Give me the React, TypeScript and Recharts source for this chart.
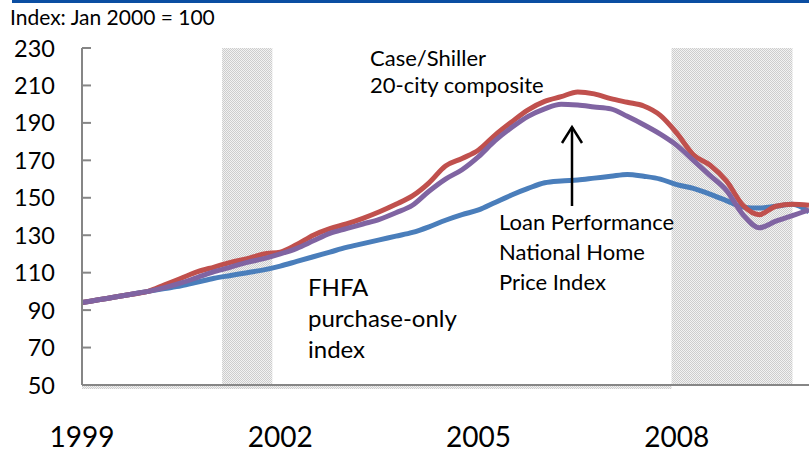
import React from "react";
import { LineChart, Line, XAxis, YAxis, ReferenceArea } from "recharts";

const years = [
  1999, 1999.25, 1999.5, 1999.75, 2000, 2000.25, 2000.5, 2000.75,
  2001, 2001.25, 2001.5, 2001.75, 2002, 2002.25, 2002.5, 2002.75,
  2003, 2003.25, 2003.5, 2003.75, 2004, 2004.25, 2004.5, 2004.75,
  2005, 2005.25, 2005.5, 2005.75, 2006, 2006.25, 2006.5, 2006.75,
  2007, 2007.25, 2007.5, 2007.75, 2008, 2008.25, 2008.5, 2008.75,
  2009, 2009.25, 2009.5, 2009.75, 2010,
];

const fhfa = [
  94, 95.5, 97, 98.5, 100, 101.5, 103, 105,
  107, 108.5, 110, 111.5, 113.5, 116, 118.5, 121,
  123.5, 125.5, 127.5, 129.5, 131.5, 134.5, 138, 141,
  143.5, 147.5, 151.5, 155, 158, 159, 159.5, 160.5,
  161.5, 162.5, 161.5, 160, 157, 155, 152, 148.5,
  145, 144.5, 145.5, 146.5, 142.5,
];

const caseShiller = [
  94, 95.5, 97, 98.5, 100, 103.5, 107, 110.5,
  113, 115.5, 117.5, 120, 121, 125, 130, 133.5,
  136, 139, 142.5, 146.5, 151, 158, 167, 171,
  175.5, 183.5, 190.5, 197, 201.5, 204, 206.5, 205.5,
  203, 201, 199, 194, 184.5, 173, 167.5, 159,
  146, 141, 145.5, 146.5, 146,
];

const loanPerformance = [
  94, 95.5, 97, 98.5, 100, 102, 104.5, 107.5,
  110.5, 113, 115.5, 117.5, 120, 123, 127, 131,
  133.5, 136, 138.5, 142, 146, 153.5, 160, 165,
  172, 180.5, 187.5, 193.5, 197.5, 200, 199.5, 198.5,
  197.5, 193.5, 189, 184, 178, 170, 162, 154,
  141, 134, 137.5, 140.5, 143.5,
];

const yTicks = [50, 70, 90, 110, 130, 150, 170, 190, 210, 230];
const xTicks = [1999, 2002, 2005, 2008];
const recessionStarts = [2001.12, 2007.92];
const recessionEnds = [2001.88, 2009.75];

const titleText = "Index: Jan 2000 = 100";
const caseShillerLabel = ["Case/Shiller", "20-city composite"];
const loanPerfLabel = ["Loan Performance", "National Home", "Price Index"];
const fhfaLabel = ["FHFA", "purchase-only", "index"];

const data = years.map((t, i) => ({
  t,
  fhfa: fhfa[i],
  cs: caseShiller[i],
  lp: loanPerformance[i],
}));

const FONT = "Lato, 'Open Sans', sans-serif";

const YTick = (props: any) => {
  const { x, y, payload } = props;
  return (
    <g>
      <text x={x} y={y} dy={8.5} textAnchor="end" fontSize={23.5} fontFamily={FONT} fill="#000">
        {payload.value}
      </text>
      <line x1={x + 27} x2={x + 36} y1={y} y2={y} stroke="#868686" strokeWidth={2} />
    </g>
  );
};

const XTick = (props: any) => {
  const { x, y, payload } = props;
  return (
    <text x={x} y={y + 62} textAnchor="middle" fontSize={28} fontFamily={FONT} fill="#000">
      {payload.value}
    </text>
  );
};

export default function App() {
  return (
    <div style={{ position: "absolute", left: 0, top: 0, width: 809, height: 453, background: "#fff" }}>
      <svg width={0} height={0} style={{ position: "absolute" }}>
        <defs>
          <pattern id="recPattern" width={2} height={2} patternUnits="userSpaceOnUse">
            <rect width={2} height={2} fill="#f2f2f2" />
            <rect x={0} y={0} width={1} height={1} fill="#cdcdcd" />
            <rect x={1} y={1} width={1} height={1} fill="#cdcdcd" />
          </pattern>
        </defs>
      </svg>
      <LineChart
        width={809}
        height={453}
        data={data}
        margin={{ top: 48, right: 0, bottom: 0, left: 0 }}
      >
        <ReferenceArea x1={1999} x2={2007.92} y1={47.9} y2={49.4} fill="url(#recPattern)" fillOpacity={1} stroke="none" ifOverflow="visible" />
        {recessionStarts.map((s, i) => (
          <ReferenceArea
            key={i}
            x1={s}
            x2={recessionEnds[i]}
            y1={i === 0 ? 47.9 : 50}
            y2={230}
            fill="url(#recPattern)"
            fillOpacity={1}
            stroke="none"
            ifOverflow="visible"
          />
        ))}
        <XAxis
          dataKey="t"
          type="number"
          domain={[1999, 2010]}
          ticks={xTicks}
          allowDataOverflow
          height={68}
          tickSize={0}
          tickMargin={0}
          tickLine={false}
          axisLine={{ stroke: "#868686", strokeWidth: 2 }}
          tick={<XTick />}
          interval={0}
        />
        <YAxis
          type="number"
          domain={[50, 230]}
          ticks={yTicks}
          width={82}
          tickSize={0}
          tickMargin={27}
          tickLine={false}
          axisLine={{ stroke: "#868686", strokeWidth: 2 }}
          tick={<YTick />}
          interval={0}
        />
        <Line type="monotone" dataKey="fhfa" stroke="#4A7EBB" strokeWidth={5} dot={false} isAnimationActive={false} />
        <Line type="monotone" dataKey="cs" stroke="#C0504D" strokeWidth={5} dot={false} isAnimationActive={false} />
        <Line type="monotone" dataKey="lp" stroke="#8064A2" strokeWidth={5} dot={false} isAnimationActive={false} />
      </LineChart>
      <svg
        width={809}
        height={453}
        style={{ position: "absolute", left: 0, top: 0, pointerEvents: "none" }}
        fontFamily={FONT}
      >
        <rect x={12} y={0} width={797} height={3} fill="#0B4EA2" />
        <text x={10} y={25} fontSize={21} fill="#000">{titleText}</text>
        {caseShillerLabel.map((s, i) => (
          <text key={s} x={370} y={66 + i * 27} fontSize={22} fill="#000">{s}</text>
        ))}
        {loanPerfLabel.map((s, i) => (
          <text key={s} x={499} y={230 + i * 30} fontSize={22} fill="#000">{s}</text>
        ))}
        {fhfaLabel.map((s, i) => (
          <text key={s} x={308} y={296 + i * 31} fontSize={24} fill="#000">{s}</text>
        ))}
        <line x1={572} y1={206} x2={572} y2={127} stroke="#000" strokeWidth={2.5} />
        <polyline points="562,143 572,127 582,143" fill="none" stroke="#000" strokeWidth={2.5} />
      </svg>
    </div>
  );
}
